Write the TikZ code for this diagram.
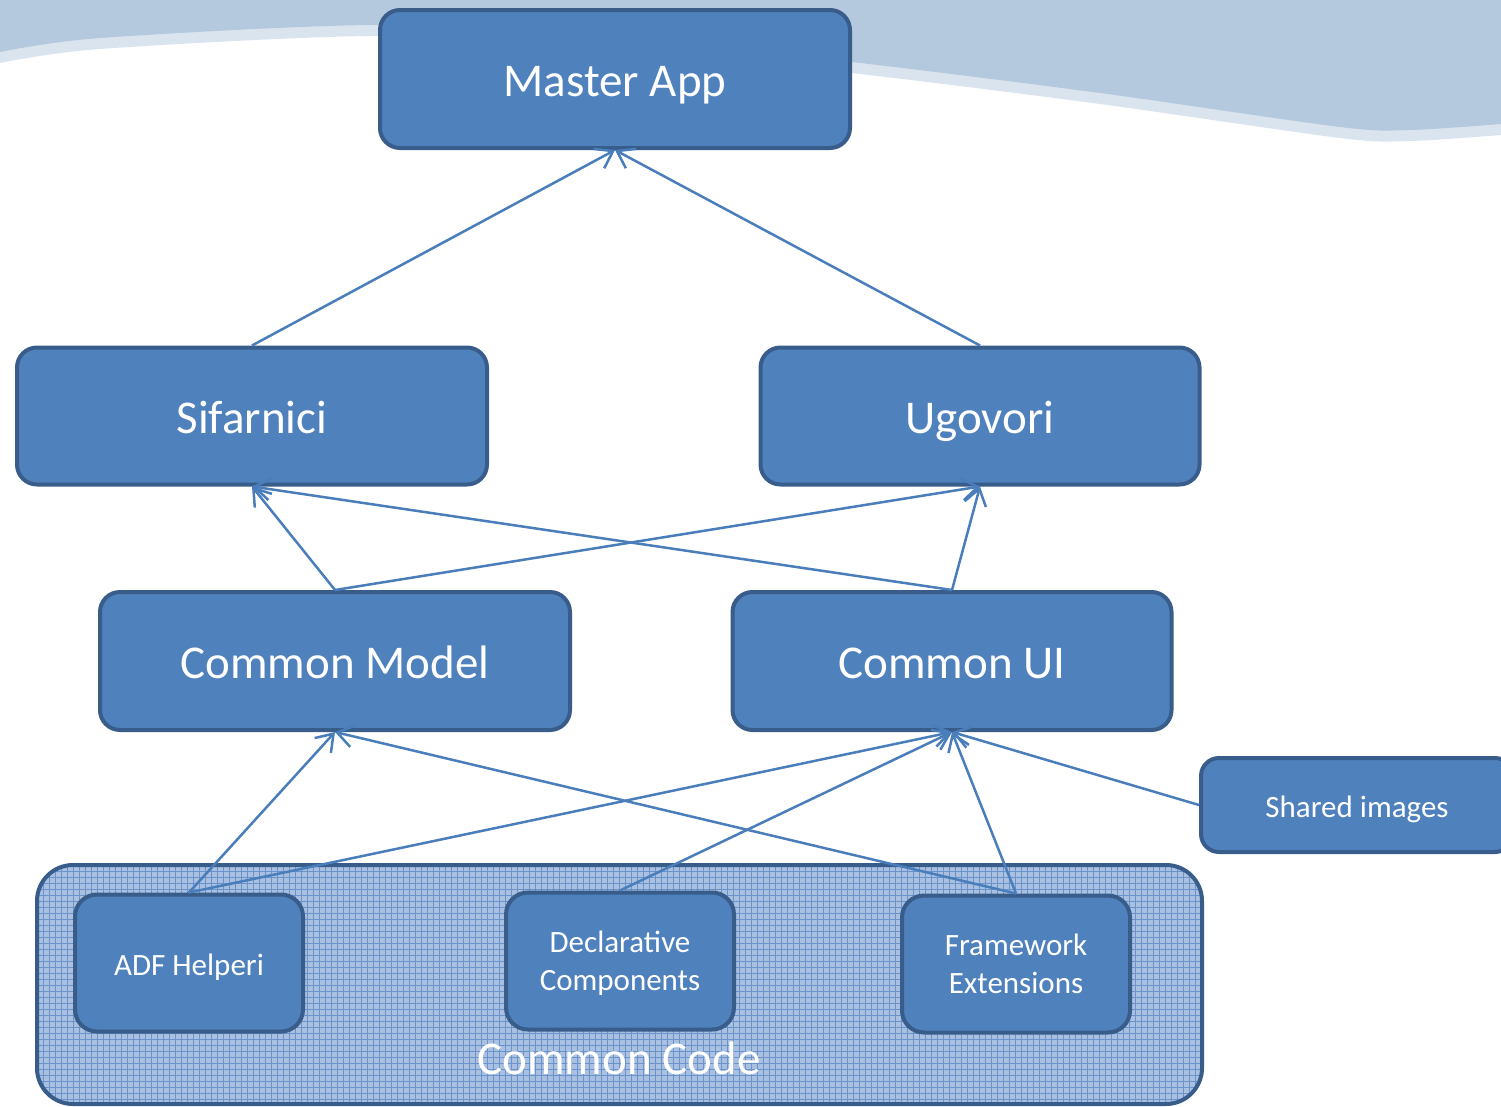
\documentclass[tikz,border=0pt]{standalone}
\usepackage{fontspec}
\setmainfont{Carlito}
\usetikzlibrary{arrows.meta}
\definecolor{boxfill}{HTML}{4F81BD}
\definecolor{boxline}{HTML}{385D8A}
\definecolor{conn}{HTML}{4A7EBB}
\definecolor{wavedark}{HTML}{B4C8DE}
\definecolor{wavelight}{HTML}{DAE4EF}
\definecolor{gridfill}{HTML}{A9C0E0}
\definecolor{gridline}{HTML}{6993CA}
\tikzset{
  bigbox/.style={draw=boxline, fill=boxfill, line width=4pt, rounded corners=20pt,
    text=white, font=\fontsize{47}{56}\selectfont, inner sep=0pt,
    text height=34pt, text depth=0pt},
  smallbox/.style={draw=boxline, fill=boxfill, line width=4pt, rounded corners=22pt,
    text=white, font=\fontsize{31}{38}\selectfont, inner sep=0pt, align=center,
    minimum width=228pt, minimum height=137pt, text depth=0pt},
  capsmall/.style={text height=24pt, text depth=0pt},
  link/.style={draw=conn, line width=2.5pt,
    -{Straight Barb[length=16pt,width=22pt,line width=2.5pt]}},
}
\begin{document}
\begin{tikzpicture}[x=1pt,y=-1pt]
\clip (0,0) rectangle (1501,1106);
\fill[white] (0,0) rectangle (1501,1106);
% background wave
\fill[wavelight] (0,0) -- plot[smooth] coordinates {(0,63) (100,49) (373,36) (600,46) (852,73) (1100,104) (1340,138) (1410,141) (1501,135)} -- (1501,0) -- cycle;
\fill[wavedark] (0,0) -- plot[smooth] coordinates {(0,52) (100,38) (373,25) (600,35) (852,62) (1100,93) (1340,127) (1410,130) (1501,124)} -- (1501,0) -- cycle;
% common code container
\begin{scope}
\clip[rounded corners=36pt] (37,865) rectangle (1202,1104);
\fill[gridfill] (37,865) rectangle (1202,1104);
\foreach \x in {37,43,...,1202} \draw[gridline, line width=0.7pt] (\x,865) -- (\x,1104);
\foreach \y in {865,871,...,1104} \draw[gridline, line width=0.7pt] (37,\y) -- (1202,\y);
\end{scope}
\draw[boxline, line width=4pt, rounded corners=36pt] (37,865) rectangle (1202,1104);
\node[text=white, font=\fontsize{47}{56}\selectfont, inner sep=0pt, text height=32pt, text depth=0pt] (cc) at (619,1058) {Common Code};
% main boxes
\node[bigbox, minimum width=470pt, minimum height=138pt] (master) at (615,79) {Master App};
\node[bigbox, minimum width=470pt, minimum height=137pt] (sif) at (252,416) {Sifarnici};
\node[bigbox, minimum width=439pt, minimum height=137pt] (ugo) at (980,416) {Ugovori};
\node[bigbox, minimum width=470pt, minimum height=138pt] (cm) at (335,661) {Common Model};
\node[bigbox, minimum width=439pt, minimum height=138pt] (cui) at (952,661) {Common UI};
\node[smallbox, capsmall, rounded corners=18pt, minimum width=312pt, minimum height=94pt] (shared) at (1357,805) {Shared images};
\node[smallbox, capsmall] (adf) at (189,963) {ADF Helperi};
\node[smallbox] (decl) at (620,961) {Declarative\\Components};
\node[smallbox] (fw) at (1016,964) {Framework\\Extensions};
% connectors
\draw[link] (sif.north) -- (master.south);
\draw[link] (ugo.north) -- (master.south);
\draw[link] (cm.north) -- (sif.south);
\draw[link] (cm.north) -- (ugo.south);
\draw[link] (cui.north) -- (sif.south);
\draw[link] (cui.north) -- (ugo.south);
\draw[link] (adf.north) -- (cm.south);
\draw[link] (adf.north) -- (cui.south);
\draw[link] (decl.north) -- (cui.south);
\draw[link] (fw.north) -- (cm.south);
\draw[link] (fw.north) -- (cui.south);
\draw[link] (shared.west) -- (cui.south);
\end{tikzpicture}
\end{document}
